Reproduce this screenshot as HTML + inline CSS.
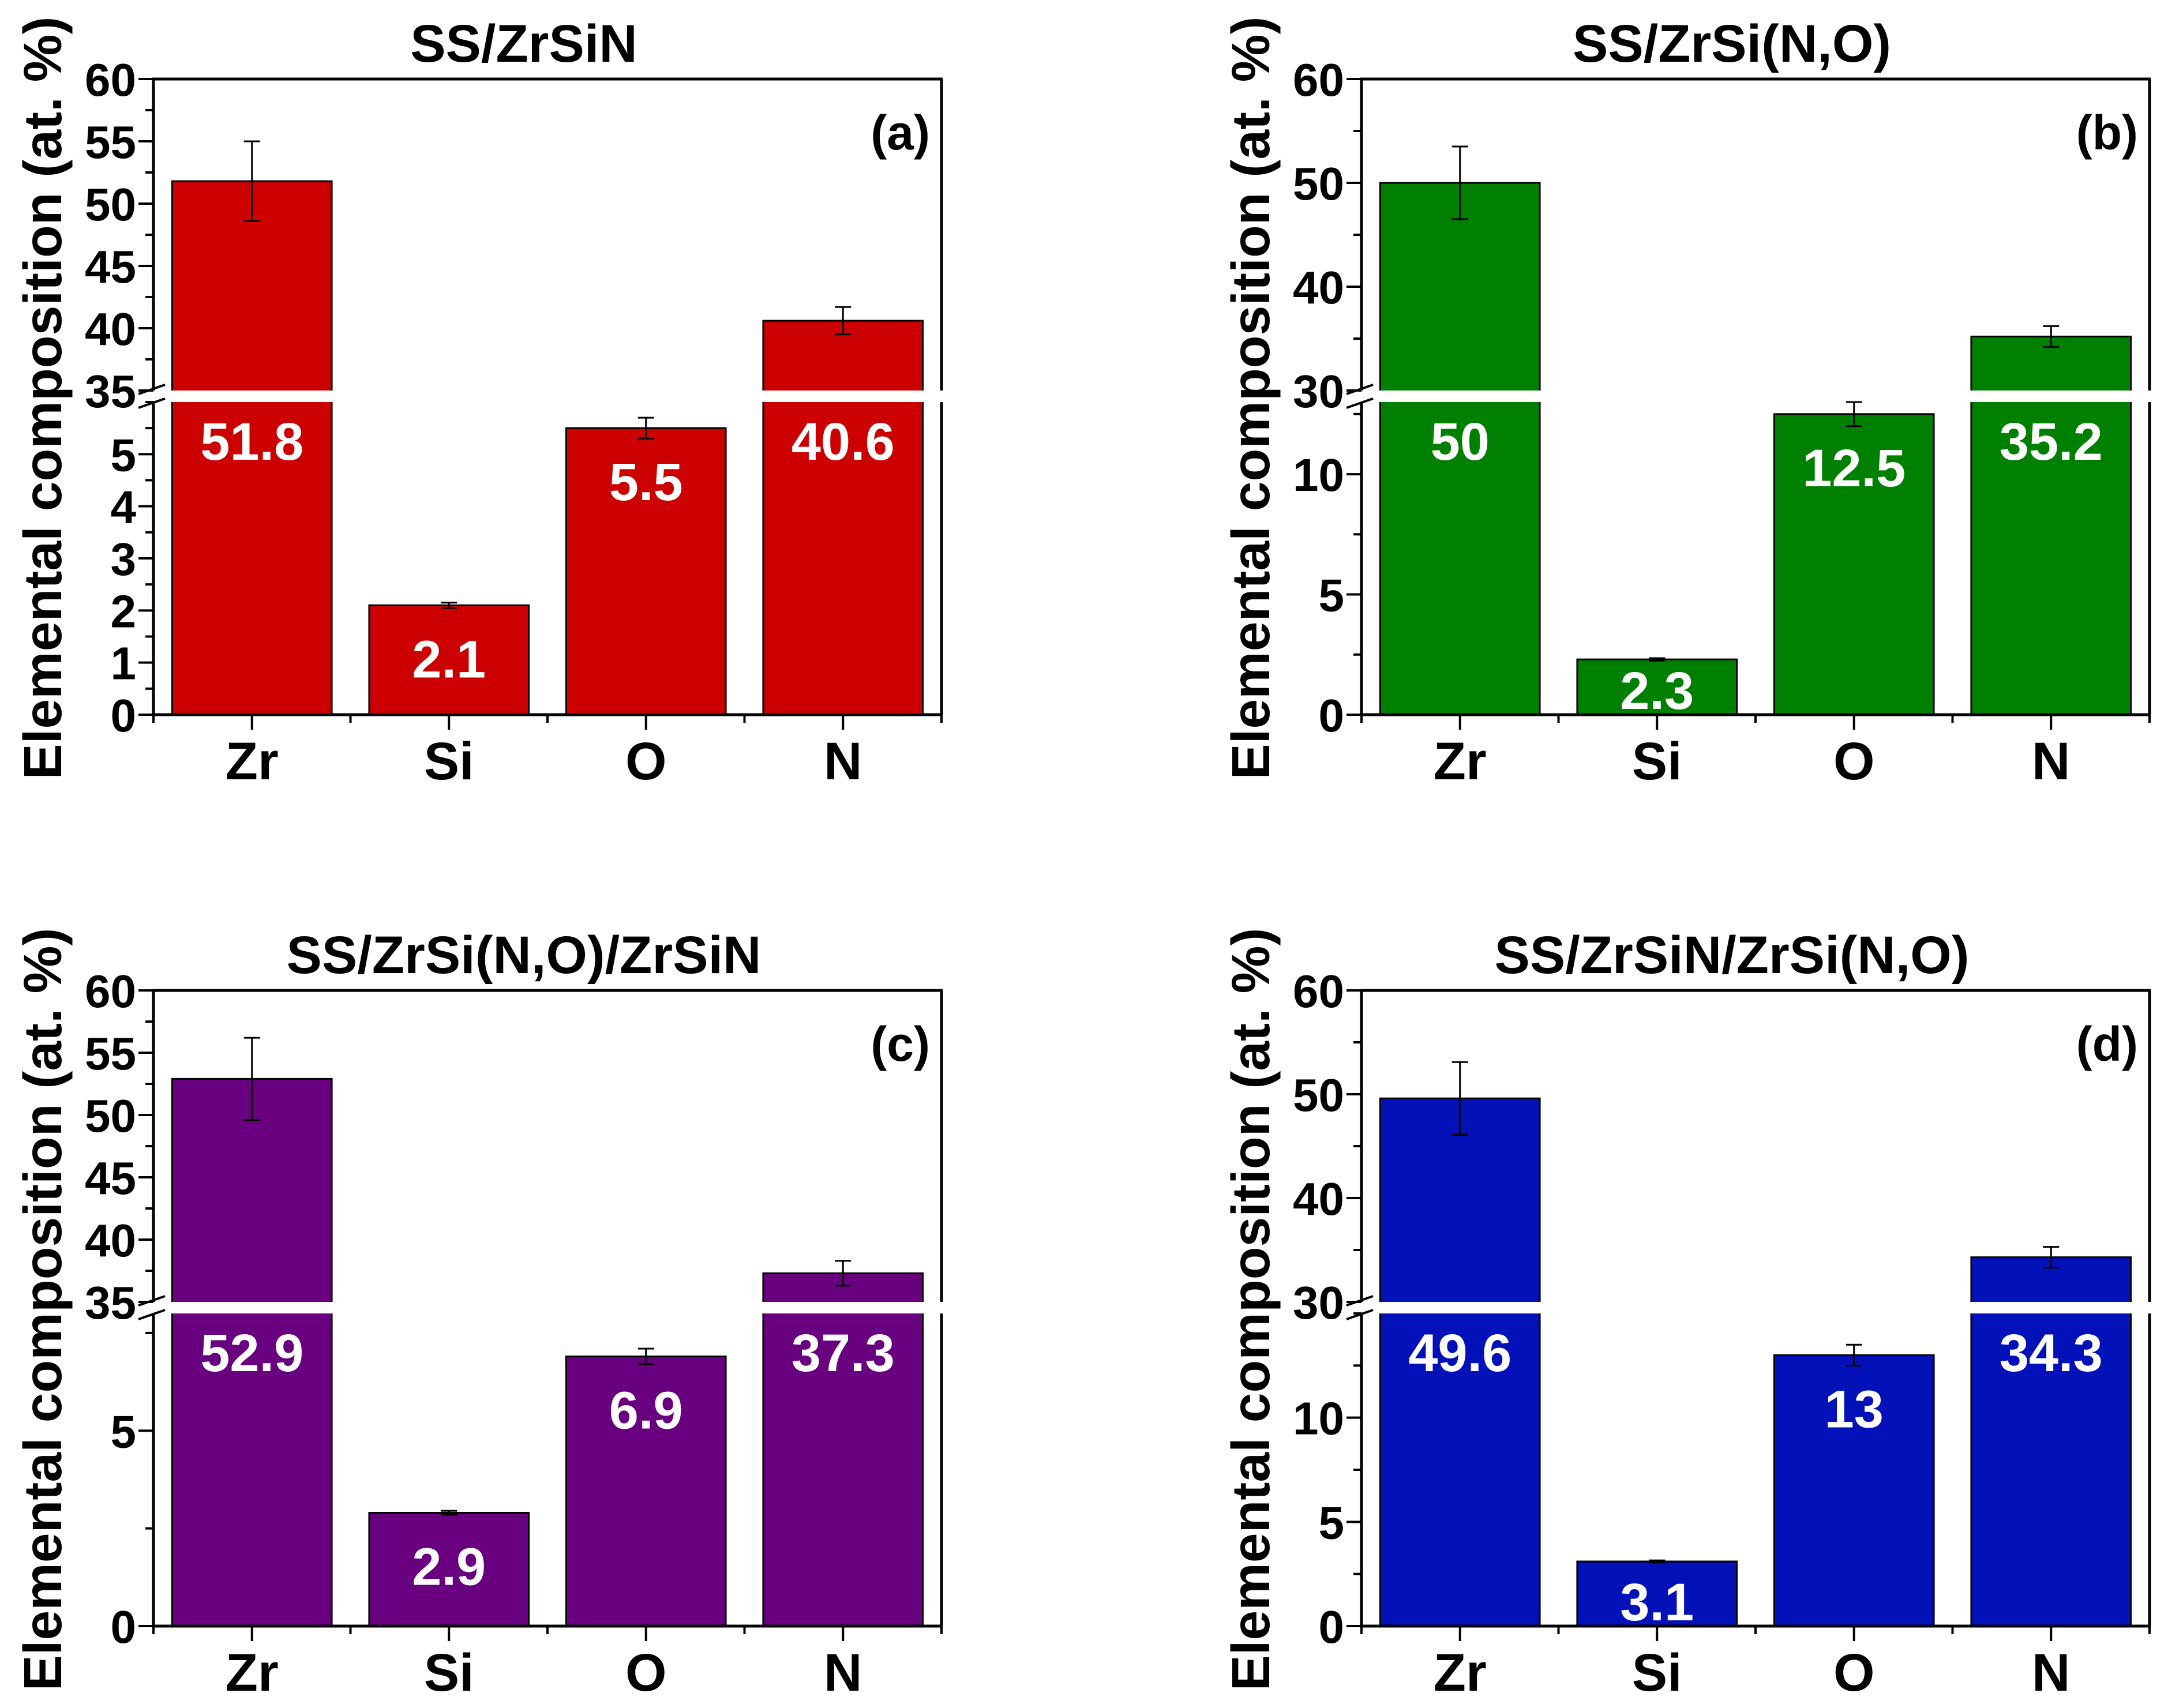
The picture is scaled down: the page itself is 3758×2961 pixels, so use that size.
<!DOCTYPE html>
<html><head><meta charset="utf-8"><style>
html,body{margin:0;padding:0;background:#fff;}
svg{display:block;}
text{font-family:"Liberation Sans",Arial,sans-serif;font-weight:bold;}
</style></head>
<body>
<svg id="fig" width="3758" height="2961" viewBox="0 0 3758 2961" xmlns="http://www.w3.org/2000/svg"></svg>
<script>
const categories = ["Zr","Si","O","N"];
const valuesA = [51.8, 2.1, 5.5, 40.6];
const errorsA = [3.2, 0.05, 0.2, 1.1];
const labelsA = ["51.8","2.1","5.5","40.6"];
const valuesB = [50, 2.3, 12.5, 35.2];
const errorsB = [3.5, 0.05, 0.5, 1.0];
const labelsB = ["50","2.3","12.5","35.2"];
const valuesC = [52.9, 2.9, 6.9, 37.3];
const errorsC = [3.3, 0.05, 0.2, 1.0];
const labelsC = ["52.9","2.9","6.9","37.3"];
const valuesD = [49.6, 3.1, 13, 34.3];
const errorsD = [3.5, 0.05, 0.5, 1.0];
const labelsD = ["49.6","3.1","13","34.3"];
const lowerTicksA = [0,1,2,3,4,5];
const lowerTicksB = [0,5,10];
const lowerTicksC = [0,5];
const lowerTicksD = [0,5,10];
const upperTicksA = [35,40,45,50,55,60];
const upperTicksB = [30,40,50,60];
const upperTicksC = [35,40,45,50,55,60];
const upperTicksD = [30,40,50,60];

const NS = "http://www.w3.org/2000/svg";
const svg = document.getElementById("fig");
function el(tag, attrs, parent, txt){
  const e = document.createElementNS(NS, tag);
  for (const k in attrs) e.setAttribute(k, attrs[k]);
  if (txt !== undefined) e.textContent = txt;
  (parent || svg).appendChild(e);
  return e;
}

const panels = [
  {id:"a", title:"SS/ZrSiN", color:"#cc0000", vals:valuesA, errs:errorsA, labs:labelsA,
   lo:[0,6], up:[35,60], loT:lowerTicksA, upT:upperTicksA, loMinor:0.5, upMinor:2.5, x0:266, top:137, letter:"(a)"},
  {id:"b", title:"SS/ZrSi(N,O)", color:"#008000", vals:valuesB, errs:errorsB, labs:labelsB,
   lo:[0,13], up:[30,60], loT:lowerTicksB, upT:upperTicksB, loMinor:2.5, upMinor:5, x0:2360, top:137, letter:"(b)"},
  {id:"c", title:"SS/ZrSi(N,O)/ZrSiN", color:"#680080", vals:valuesC, errs:errorsC, labs:labelsC,
   lo:[0,8], up:[35,60], loT:lowerTicksC, upT:upperTicksC, loMinor:2.5, upMinor:2.5, x0:266, top:1717, letter:"(c)"},
  {id:"d", title:"SS/ZrSiN/ZrSi(N,O)", color:"#0212b8", vals:valuesD, errs:errorsD, labs:labelsD,
   lo:[0,15], up:[30,60], loT:lowerTicksD, upT:upperTicksD, loMinor:2.5, upMinor:5, x0:2360, top:1717, letter:"(d)"}
];

panels.forEach(p => {
  const W = 1366, x0 = p.x0, x1 = x0 + W;
  const top = p.top, gapT = top + 540, gapB = top + 560, bot = top + 1102;
  const g = el("g", {});
  
  
  const yUp = v => gapT - (v - p.up[0]) / (p.up[1] - p.up[0]) * (gapT - top);
  const yLo = v => bot - (v - p.lo[0]) / (p.lo[1] - p.lo[0]) * (bot - gapB);
  const y = v => v <= p.lo[1] ? yLo(v) : (v >= p.up[0] ? yUp(v) : gapT);
  const band = W / categories.length;
  const xc = i => x0 + band * (i + 0.5);
  const bw = band * 0.81;

  p.vals.forEach((v, i) => {
    const r = el("rect", {x: xc(i) - bw/2, y: y(v), width: bw, height: bot - y(v), fill: p.color, stroke: "#000", "stroke-width": 3}, g);
    
    
  });
  const gap = el("rect", {x: x0 - 8, y: gapT, width: W + 16, height: gapB - gapT, fill: "#fff"}, g);
  
  
  p.vals.forEach((v, i) => {
    const e = p.errs[i], cx = xc(i);
    const eg = el("g", {stroke: "#000", "stroke-width": 3}, g);
    
    
    el("line", {x1: cx, x2: cx, y1: y(v + e), y2: y(v - e)}, eg);
    el("line", {x1: cx - 14, x2: cx + 14, y1: y(v + e), y2: y(v + e)}, eg);
    el("line", {x1: cx - 14, x2: cx + 14, y1: y(v - e), y2: y(v - e)}, eg);
  });
  p.vals.forEach((v, i) => {
    let base;
    if (v > p.lo[1]) base = gapB + 100;
    else base = Math.min(y(v) + 125, bot - 10);
    const t = el("text", {x: xc(i), y: base, "text-anchor": "middle", "font-size": 92, fill: "#fff"}, g, p.labs[i]);
    
    
  });
  const ax = el("g", {stroke: "#000", "stroke-width": 5, fill: "none"}, g);
  
  
  el("line", {x1: x0, x2: x0, y1: top, y2: gapT}, ax);
  el("line", {x1: x0, x2: x0, y1: gapB, y2: bot}, ax);
  el("line", {x1: x1, x2: x1, y1: top, y2: gapT}, ax);
  el("line", {x1: x1, x2: x1, y1: gapB, y2: bot}, ax);
  el("line", {x1: x0 - 2, x2: x1 + 2, y1: top, y2: top}, ax);
  el("line", {x1: x0 - 2, x2: x1 + 2, y1: bot, y2: bot}, ax);
  const bm = el("g", {stroke: "#000", "stroke-width": 4}, g);
  
  
  el("line", {x1: x0 - 26, x2: x0 + 20, y1: gapT + 6, y2: gapT - 10}, bm);
  el("line", {x1: x0 - 26, x2: x0 + 20, y1: gapB + 10, y2: gapB - 6}, bm);
  const tg = el("g", {stroke: "#000", "stroke-width": 4}, g);
  
  
  for (let v = p.lo[0]; v <= p.lo[1] + 1e-9; v += p.loMinor) {
    const major = p.loT.indexOf(Math.round(v*100)/100) >= 0;
    el("line", {x1: x0 - (major ? 26 : 14), x2: x0, y1: yLo(v), y2: yLo(v)}, tg);
  }
  for (let v = p.up[0]; v <= p.up[1] + 1e-9; v += p.upMinor) {
    const major = p.upT.indexOf(v) >= 0;
    el("line", {x1: x0 - (major ? 26 : 14), x2: x0, y1: yUp(v), y2: yUp(v)}, tg);
  }
  p.loT.forEach(v => {
    const t = el("text", {x: x0 - 30, y: yLo(v) + 29, "text-anchor": "end", "font-size": 80}, g, String(v));
    
    
  });
  p.upT.forEach(v => {
    const t = el("text", {x: x0 - 30, y: yUp(v) + 29, "text-anchor": "end", "font-size": 80}, g, String(v));
    
    
  });
  for (let i = 0; i <= categories.length; i++) {
    el("line", {x1: x0 + band*i, x2: x0 + band*i, y1: bot, y2: bot + 14}, tg);
  }
  categories.forEach((c, i) => {
    el("line", {x1: xc(i), x2: xc(i), y1: bot, y2: bot + 26}, tg);
    const t = el("text", {x: xc(i), y: bot + 112, "text-anchor": "middle", "font-size": 92}, g, c);
    
    
  });
  const tt = el("text", {x: x0 + W*0.47, y: top - 30, "text-anchor": "middle", "font-size": 92}, g, p.title);
  
  
  const lt = el("text", {x: x1 - 20, y: top + 122, "text-anchor": "end", "font-size": 84}, g, p.letter);
  
  
  const yt = el("text", {x: 0, y: 0, "text-anchor": "middle", "font-size": 93,
    transform: "translate(" + (x0 - 160) + "," + (top + 553) + ") rotate(-90)"}, g, "Elemental composition (at. %)");
  
  
});
</script>
</body></html>
